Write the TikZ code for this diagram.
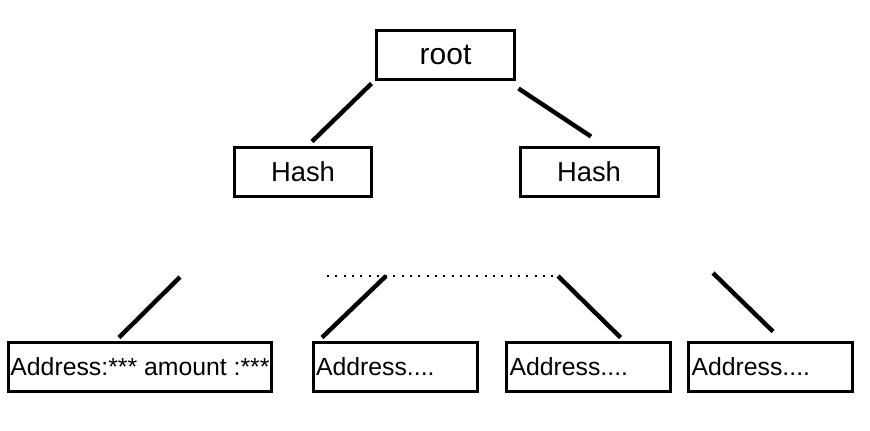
\documentclass[tikz,border=0pt]{standalone}
\usepackage{fontspec}
\setmainfont{Liberation Sans}
\usepackage{xcolor}
\definecolor{cLine}{HTML}{000000}
\usetikzlibrary{calc}
\tikzset{
  node-box/.style={draw=cLine,line width=1.5pt,minimum width=69pt,
    minimum height=24.5pt,inner sep=0pt,align=center,
    font=\fontsize{13.7}{15}\selectfont},
  node-leaf/.style={draw=cLine,line width=1.5pt,minimum width=82pt,
    minimum height=24.5pt,inner xsep=1pt,inner ysep=0pt,
    font=\fontsize{12.4}{14}\selectfont},
  node-leaf-left/.style={node-leaf,text width=79pt,align=left},
  link/.style={draw=cLine,line width=2.2pt},
  link-dotted/.style={draw=cLine,line width=1pt,dash pattern=on 1pt off 3.15pt},
}

\begin{document}
\begin{tikzpicture}[x=0.5pt,y=-0.5pt]
  \useasboundingbox (0,0) rectangle (870,430);
  % tree nodes
  \node[node-box,font=\fontsize{15}{17}\selectfont] (root) at (445.5,55) {root};
  \node[node-box,minimum width=68.5pt] (hashL) at (303,172) {Hash};
  \node[node-box] (hashR) at (589,172) {Hash};
  \node[node-leaf,minimum width=131.5pt] (leafA) at (140,367) {Address:*** amount :***};
  \node[node-leaf-left] (leafB) at (395,367) {Address....};
  \node[node-leaf-left] (leafC) at (588.5,367) {Address....};
  \node[node-leaf-left] (leafD) at (770.5,367) {Address....};
  % free ends of the lower links
  \coordinate (topA) at (180,277);
  \coordinate (dotL) at (327,276);
  \coordinate (dotR) at (557,276);
  \coordinate (topB) at (386,276);
  \coordinate (topC) at (558,276);
  \coordinate (topD) at (713,273);
  % links
  \draw[link] ($(root.south west)+(-3.5,2.5)$) -- ($(hashL.north)+(9,-4.5)$);
  \draw[link] ($(root.south east)+(2.5,7.5)$) -- ($(hashR.north)+(2,-9.5)$);
  \draw[link-dotted] (dotL) -- (dotR);
  \draw[link] (topA) -- ($(leafA.north)+(-21,-3.5)$);
  \draw[link] (topB) -- ($(leafB.north west)+(10.5,-3.5)$);
  \draw[link] (topC) -- ($(leafC.north east)+(-51.5,-3.5)$);
  \draw[link] (topD) -- ($(leafD.north)+(2.5,-9.5)$);
\end{tikzpicture}
\end{document}
